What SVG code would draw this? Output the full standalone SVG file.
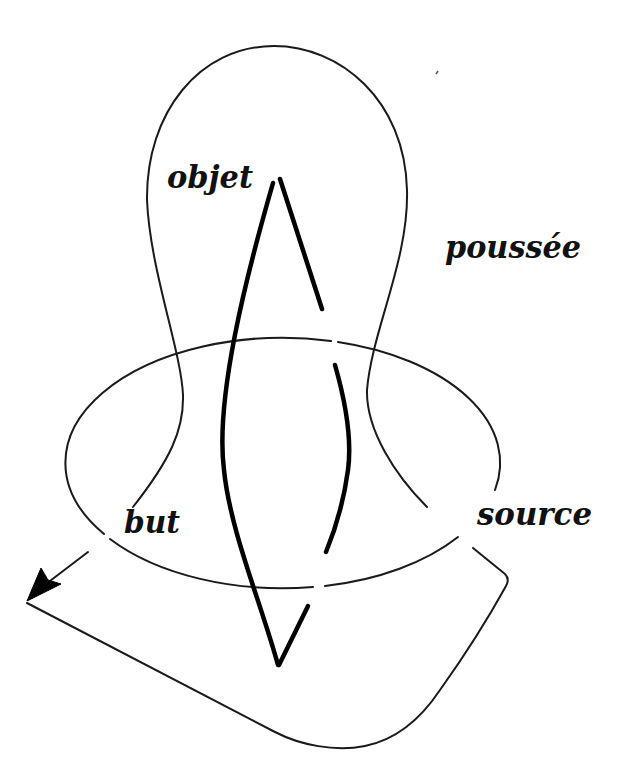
<svg xmlns="http://www.w3.org/2000/svg" width="628" height="757" viewBox="0 0 628 757">
<style>
.thin{fill:none;stroke:#1a1a1a;stroke-width:2;stroke-linecap:round;stroke-linejoin:round}
.thick{fill:none;stroke:#000;stroke-width:4.5;stroke-linecap:round;stroke-linejoin:round}
.lbl{font-family:"DejaVu Serif","Liberation Serif",serif;font-style:italic;font-weight:bold;font-size:32px;fill:#111}
</style>
<rect width="628" height="757" fill="#fff"/>
<g id="connectors">
  <g id="bulb">
    <path class="thin" d="M133,507 C170,460 184,430 183,395 C181,350 150,270 147,200 C146,112 200,46 274,46 C340,46 405,100 407,190 C409,260 372,330 367,390 C366,430 395,475 427,507"/>
  </g>
  <g id="ring">
    <path class="thin" d="M110,539 A217,125 0 0 0 313,587"/>
    <path class="thin" d="M325,586 A217,125 0 0 0 458,537"/>
    <path class="thin" d="M495,490 A217,125 0 0 0 338,342"/>
    <path class="thin" d="M331,341 A217,125 0 0 0 104,534"/>
  </g>
  <g id="lens">
    <path class="thick" d="M273,183 C245,280 215,400 224,470 C230,530 260,600 278,665"/>
    <path class="thick" d="M280,179 L322,309"/>
    <path class="thick" d="M335,365 C345,400 352,440 348,470 C344,500 335,530 326,552"/>
    <path class="thick" d="M308,606 L279,665"/>
  </g>
  <g id="return-path">
    <path class="thin" d="M27,603 L275,732 C300,745 335,752 365,746 C395,740 420,720 440,690 C465,655 490,615 506,586 Q510,579 505,574 L473,548"/>
    <path class="thin" d="M88,552 L46,584"/>
    <path d="M27,601 L41,568 L48,580 L61,584 Z" fill="#000" stroke="#000" stroke-width="1" stroke-linejoin="round"/>
  </g>
  <path d="M436,74 L438,71" stroke="#555" stroke-width="1.5"/>
</g>
<g id="objet"><text class="lbl" x="167" y="188" textLength="86" lengthAdjust="spacingAndGlyphs">objet</text></g>
<g id="poussee"><text class="lbl" x="445" y="258" textLength="136" lengthAdjust="spacingAndGlyphs">poussée</text></g>
<g id="but"><text class="lbl" x="124" y="533" textLength="56" lengthAdjust="spacingAndGlyphs">but</text></g>
<g id="source"><text class="lbl" x="477" y="525" textLength="115" lengthAdjust="spacingAndGlyphs">source</text></g>
</svg>
